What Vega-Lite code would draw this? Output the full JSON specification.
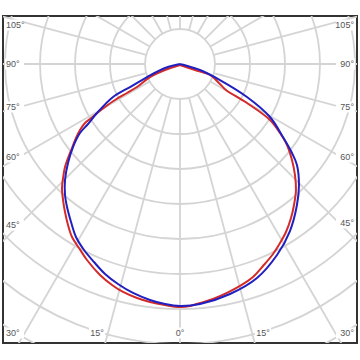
{
  "$schema": "https://vega.github.io/schema/vega-lite/v6.json",
  "width": 354,
  "height": 327,
  "autosize": "none",
  "padding": {"left": 3, "top": 16, "right": 3, "bottom": 17},
  "background": "white",
  "config": {"view": {"stroke": "#333333", "strokeWidth": 2}},
  "datasets": {
    "rings": [{"r": 50}, {"r": 100}, {"r": 150}, {"r": 200}, {"r": 250}, {"r": 300}, {"r": 350}, {"r": 400}, {"r": 450}],
    "spokes": [
      {"x": 0, "y": -50, "x2": 0, "y2": -500},
      {"x": 12.94, "y": -48.3, "x2": 129.4, "y2": -483},
      {"x": 25, "y": -43.3, "x2": 250, "y2": -433},
      {"x": 35.36, "y": -35.36, "x2": 353.6, "y2": -353.6},
      {"x": 43.3, "y": -25, "x2": 433, "y2": -250},
      {"x": 48.3, "y": -12.94, "x2": 483, "y2": -129.4},
      {"x": 50, "y": 0, "x2": 500, "y2": 0},
      {"x": 48.3, "y": 12.94, "x2": 483, "y2": 129.4},
      {"x": 43.3, "y": 25, "x2": 433, "y2": 250},
      {"x": 35.36, "y": 35.36, "x2": 353.6, "y2": 353.6},
      {"x": 25, "y": 43.3, "x2": 250, "y2": 433},
      {"x": 12.94, "y": 48.3, "x2": 129.4, "y2": 483},
      {"x": 0, "y": 50, "x2": 0, "y2": 500},
      {"x": -12.94, "y": -48.3, "x2": -129.4, "y2": -483},
      {"x": -25, "y": -43.3, "x2": -250, "y2": -433},
      {"x": -35.36, "y": -35.36, "x2": -353.6, "y2": -353.6},
      {"x": -43.3, "y": -25, "x2": -433, "y2": -250},
      {"x": -48.3, "y": -12.94, "x2": -483, "y2": -129.4},
      {"x": -50, "y": 0, "x2": -500, "y2": 0},
      {"x": -48.3, "y": 12.94, "x2": -483, "y2": 129.4},
      {"x": -43.3, "y": 25, "x2": -433, "y2": 250},
      {"x": -35.36, "y": 35.36, "x2": -353.6, "y2": 353.6},
      {"x": -25, "y": 43.3, "x2": -250, "y2": 433},
      {"x": -12.94, "y": 48.3, "x2": -129.4, "y2": 483}
    ],
    "labelsL": [
      {"t": "105°", "x": -248.6, "y": 55.7},
      {"t": "90°", "x": -248.6, "y": 0},
      {"t": "75°", "x": -248.6, "y": -61.4},
      {"t": "60°", "x": -248.6, "y": -132.9},
      {"t": "45°", "x": -248.6, "y": -230},
      {"t": "30°", "x": -248.6, "y": -384.3}
    ],
    "labelsR": [
      {"t": "105°", "x": 248.6, "y": 55.7},
      {"t": "90°", "x": 248.6, "y": 0},
      {"t": "75°", "x": 248.6, "y": -61.4},
      {"t": "60°", "x": 248.6, "y": -132.9},
      {"t": "45°", "x": 248.6, "y": -227.1},
      {"t": "30°", "x": 248.6, "y": -384.3}
    ],
    "labelsC": [
      {"t": "15°", "x": -118.6, "y": -384.3},
      {"t": "0°", "x": 0, "y": -384.3},
      {"t": "15°", "x": 118.6, "y": -384.3}
    ],
    "curves": [
      {"s": "C90", "i": 0, "x": 0, "y": -1.4},
      {"s": "C90", "i": 1, "x": -21.4, "y": -8.6},
      {"s": "C90", "i": 2, "x": -42.9, "y": -18.6},
      {"s": "C90", "i": 3, "x": -61.4, "y": -32.9},
      {"s": "C90", "i": 4, "x": -75.7, "y": -41.4},
      {"s": "C90", "i": 5, "x": -92.9, "y": -51.4},
      {"s": "C90", "i": 6, "x": -107.1, "y": -61.4},
      {"s": "C90", "i": 7, "x": -120, "y": -71.4},
      {"s": "C90", "i": 8, "x": -128.6, "y": -78.6},
      {"s": "C90", "i": 9, "x": -135.7, "y": -84.3},
      {"s": "C90", "i": 10, "x": -142.9, "y": -94.3},
      {"s": "C90", "i": 11, "x": -148.6, "y": -105.7},
      {"s": "C90", "i": 12, "x": -154.3, "y": -120},
      {"s": "C90", "i": 13, "x": -160, "y": -134.3},
      {"s": "C90", "i": 14, "x": -164.3, "y": -147.1},
      {"s": "C90", "i": 15, "x": -167.1, "y": -162.9},
      {"s": "C90", "i": 16, "x": -168.6, "y": -177.1},
      {"s": "C90", "i": 17, "x": -167.1, "y": -194.3},
      {"s": "C90", "i": 18, "x": -164.3, "y": -211.4},
      {"s": "C90", "i": 19, "x": -160, "y": -230},
      {"s": "C90", "i": 20, "x": -154.3, "y": -247.1},
      {"s": "C90", "i": 21, "x": -144.3, "y": -262.9},
      {"s": "C90", "i": 22, "x": -132.9, "y": -280},
      {"s": "C90", "i": 23, "x": -114.3, "y": -301.4},
      {"s": "C90", "i": 24, "x": -97.1, "y": -315.7},
      {"s": "C90", "i": 25, "x": -81.4, "y": -325.7},
      {"s": "C90", "i": 26, "x": -61.4, "y": -334.3},
      {"s": "C90", "i": 27, "x": -42.9, "y": -340},
      {"s": "C90", "i": 28, "x": -21.4, "y": -344.3},
      {"s": "C90", "i": 29, "x": 0, "y": -347.1},
      {"s": "C90", "i": 30, "x": 14.3, "y": -345.7},
      {"s": "C90", "i": 31, "x": 28.6, "y": -341.4},
      {"s": "C90", "i": 32, "x": 47.1, "y": -335.7},
      {"s": "C90", "i": 33, "x": 67.1, "y": -327.1},
      {"s": "C90", "i": 34, "x": 85.7, "y": -317.1},
      {"s": "C90", "i": 35, "x": 104.3, "y": -304.3},
      {"s": "C90", "i": 36, "x": 118.6, "y": -288.6},
      {"s": "C90", "i": 37, "x": 132.9, "y": -271.4},
      {"s": "C90", "i": 38, "x": 142.9, "y": -255.7},
      {"s": "C90", "i": 39, "x": 151.4, "y": -240},
      {"s": "C90", "i": 40, "x": 158.6, "y": -220},
      {"s": "C90", "i": 41, "x": 162.9, "y": -201.4},
      {"s": "C90", "i": 42, "x": 165.7, "y": -180},
      {"s": "C90", "i": 43, "x": 164.3, "y": -158.6},
      {"s": "C90", "i": 44, "x": 160, "y": -137.1},
      {"s": "C90", "i": 45, "x": 152.9, "y": -115.7},
      {"s": "C90", "i": 46, "x": 142.9, "y": -98.6},
      {"s": "C90", "i": 47, "x": 128.6, "y": -80},
      {"s": "C90", "i": 48, "x": 95.7, "y": -55.7},
      {"s": "C90", "i": 49, "x": 65.7, "y": -37.1},
      {"s": "C90", "i": 50, "x": 57.1, "y": -28.6},
      {"s": "C90", "i": 51, "x": 42.9, "y": -15.7},
      {"s": "C90", "i": 52, "x": 21.4, "y": -8.6},
      {"s": "C90", "i": 53, "x": 0, "y": -1.4},
      {"s": "C0", "i": 0, "x": 0, "y": 0},
      {"s": "C0", "i": 1, "x": -21.4, "y": -5.7},
      {"s": "C0", "i": 2, "x": -47.1, "y": -18.6},
      {"s": "C0", "i": 3, "x": -71.4, "y": -32.9},
      {"s": "C0", "i": 4, "x": -95.7, "y": -47.1},
      {"s": "C0", "i": 5, "x": -118.6, "y": -70},
      {"s": "C0", "i": 6, "x": -131.4, "y": -85.7},
      {"s": "C0", "i": 7, "x": -142.9, "y": -98.6},
      {"s": "C0", "i": 8, "x": -152.9, "y": -118.6},
      {"s": "C0", "i": 9, "x": -160, "y": -141.4},
      {"s": "C0", "i": 10, "x": -164.3, "y": -165.7},
      {"s": "C0", "i": 11, "x": -164.3, "y": -187.1},
      {"s": "C0", "i": 12, "x": -161.4, "y": -204.3},
      {"s": "C0", "i": 13, "x": -155.7, "y": -225.7},
      {"s": "C0", "i": 14, "x": -148.6, "y": -247.1},
      {"s": "C0", "i": 15, "x": -137.1, "y": -265.7},
      {"s": "C0", "i": 16, "x": -122.9, "y": -282.9},
      {"s": "C0", "i": 17, "x": -107.1, "y": -300},
      {"s": "C0", "i": 18, "x": -88.6, "y": -314.3},
      {"s": "C0", "i": 19, "x": -67.1, "y": -327.1},
      {"s": "C0", "i": 20, "x": -42.9, "y": -337.1},
      {"s": "C0", "i": 21, "x": -21.4, "y": -342.9},
      {"s": "C0", "i": 22, "x": 0, "y": -345.7},
      {"s": "C0", "i": 23, "x": 28.6, "y": -342.9},
      {"s": "C0", "i": 24, "x": 71.4, "y": -328.6},
      {"s": "C0", "i": 25, "x": 110, "y": -305.7},
      {"s": "C0", "i": 26, "x": 138.6, "y": -272.9},
      {"s": "C0", "i": 27, "x": 157.1, "y": -238.6},
      {"s": "C0", "i": 28, "x": 167.1, "y": -201.4},
      {"s": "C0", "i": 29, "x": 170, "y": -172.9},
      {"s": "C0", "i": 30, "x": 167.1, "y": -144.3},
      {"s": "C0", "i": 31, "x": 160, "y": -127.1},
      {"s": "C0", "i": 32, "x": 147.1, "y": -104.3},
      {"s": "C0", "i": 33, "x": 128.6, "y": -75.7},
      {"s": "C0", "i": 34, "x": 95.7, "y": -47.1},
      {"s": "C0", "i": 35, "x": 57.1, "y": -22.9},
      {"s": "C0", "i": 36, "x": 28.6, "y": -8.6},
      {"s": "C0", "i": 37, "x": 0, "y": 0}
    ]
  },
  "layer": [
    {
      "data": {"name": "rings"},
      "mark": {"type": "point", "shape": "circle", "filled": false, "stroke": "#d4d4d4", "strokeWidth": 1.8, "opacity": 1, "clip": true},
      "encoding": {
        "x": {"datum": 0, "type": "quantitative", "scale": {"domain": [-252.9, 252.9], "nice": false, "zero": false}, "axis": null},
        "y": {"datum": 0, "type": "quantitative", "scale": {"domain": [-398.6, 68.6], "nice": false, "zero": false}, "axis": null},
        "size": {"field": "r", "type": "quantitative", "scale": {"type": "pow", "exponent": 2, "domain": [0, 500], "range": [0, 490000], "zero": true, "nice": false}, "legend": null}
      }
    },
    {
      "data": {"name": "spokes"},
      "mark": {"type": "rule", "stroke": "#d4d4d4", "strokeWidth": 1.8, "clip": true},
      "encoding": {
        "x": {"field": "x", "type": "quantitative", "scale": {"domain": [-252.9, 252.9], "nice": false, "zero": false}, "axis": null},
        "y": {"field": "y", "type": "quantitative", "scale": {"domain": [-398.6, 68.6], "nice": false, "zero": false}, "axis": null},
        "x2": {"field": "x2"},
        "y2": {"field": "y2"}
      }
    },
    {
      "data": {"name": "labelsL"},
      "mark": {"type": "point", "shape": "M-0.1,-0.55H1.8V0.55H-0.1Z", "size": 400, "filled": true, "fill": "white", "opacity": 1, "strokeWidth": 0, "clip": true},
      "encoding": {
        "x": {"field": "x", "type": "quantitative", "scale": {"domain": [-252.9, 252.9], "nice": false, "zero": false}, "axis": null},
        "y": {"field": "y", "type": "quantitative", "scale": {"domain": [-398.6, 68.6], "nice": false, "zero": false}, "axis": null}
      }
    },
    {
      "data": {"name": "labelsR"},
      "mark": {"type": "point", "shape": "M0.1,-0.55H-1.8V0.55H0.1Z", "size": 400, "filled": true, "fill": "white", "opacity": 1, "strokeWidth": 0, "clip": true},
      "encoding": {
        "x": {"field": "x", "type": "quantitative", "scale": {"domain": [-252.9, 252.9], "nice": false, "zero": false}, "axis": null},
        "y": {"field": "y", "type": "quantitative", "scale": {"domain": [-398.6, 68.6], "nice": false, "zero": false}, "axis": null}
      }
    },
    {
      "data": {"name": "labelsC"},
      "mark": {"type": "point", "shape": "M-0.8,-0.55H0.8V0.55H-0.8Z", "size": 400, "filled": true, "fill": "white", "opacity": 1, "strokeWidth": 0, "clip": true},
      "encoding": {
        "x": {"field": "x", "type": "quantitative", "scale": {"domain": [-252.9, 252.9], "nice": false, "zero": false}, "axis": null},
        "y": {"field": "y", "type": "quantitative", "scale": {"domain": [-398.6, 68.6], "nice": false, "zero": false}, "axis": null}
      }
    },
    {
      "data": {"name": "labelsL"},
      "mark": {"type": "text", "font": "Liberation Sans", "fontSize": 9, "color": "#555555", "align": "left", "baseline": "middle"},
      "encoding": {
        "x": {"field": "x", "type": "quantitative", "scale": {"domain": [-252.9, 252.9], "nice": false, "zero": false}, "axis": null},
        "y": {"field": "y", "type": "quantitative", "scale": {"domain": [-398.6, 68.6], "nice": false, "zero": false}, "axis": null},
        "text": {"field": "t", "type": "nominal"}
      }
    },
    {
      "data": {"name": "labelsR"},
      "mark": {"type": "text", "font": "Liberation Sans", "fontSize": 9, "color": "#555555", "align": "right", "baseline": "middle"},
      "encoding": {
        "x": {"field": "x", "type": "quantitative", "scale": {"domain": [-252.9, 252.9], "nice": false, "zero": false}, "axis": null},
        "y": {"field": "y", "type": "quantitative", "scale": {"domain": [-398.6, 68.6], "nice": false, "zero": false}, "axis": null},
        "text": {"field": "t", "type": "nominal"}
      }
    },
    {
      "data": {"name": "labelsC"},
      "mark": {"type": "text", "font": "Liberation Sans", "fontSize": 9, "color": "#555555", "align": "center", "baseline": "middle"},
      "encoding": {
        "x": {"field": "x", "type": "quantitative", "scale": {"domain": [-252.9, 252.9], "nice": false, "zero": false}, "axis": null},
        "y": {"field": "y", "type": "quantitative", "scale": {"domain": [-398.6, 68.6], "nice": false, "zero": false}, "axis": null},
        "text": {"field": "t", "type": "nominal"}
      }
    },
    {
      "data": {"name": "curves"},
      "mark": {"type": "line", "strokeWidth": 2, "interpolate": "catmull-rom", "clip": true},
      "encoding": {
        "x": {"field": "x", "type": "quantitative", "scale": {"domain": [-252.9, 252.9], "nice": false, "zero": false}, "axis": null},
        "y": {"field": "y", "type": "quantitative", "scale": {"domain": [-398.6, 68.6], "nice": false, "zero": false}, "axis": null},
        "order": {"field": "i", "type": "quantitative"},
        "color": {"field": "s", "type": "nominal", "scale": {"domain": ["C90", "C0"], "range": ["#d42a2a", "#2020c0"]}, "legend": null}
      }
    }
  ]
}
